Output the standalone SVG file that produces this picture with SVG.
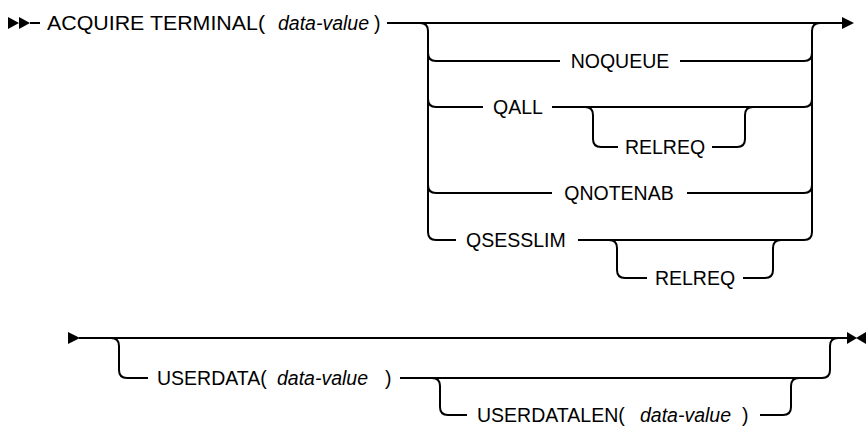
<svg xmlns="http://www.w3.org/2000/svg" width="866" height="427" viewBox="0 0 866 427">
<style>
  .ln { fill: none; stroke: #000; stroke-width: 2; }
  .ah { fill: #000; stroke: none; }
  text { font-family: "Liberation Sans", Arial, sans-serif; font-size: 19.5px; fill: #000; }
  .c { text-anchor: middle; }
  .v { font-style: italic; }
</style>
<rect width="866" height="427" fill="#fff"/>
<g id="connectors">
  <polygon class="ah" points="8,17 19,23 8,29"/>
  <polygon class="ah" points="19,17 30,23 19,29"/>
  <path class="ln" d="M30 23 H40"/>
  <path class="ln" d="M387 23 H843"/>
  <polygon class="ah" points="842,17 854,23 842,29"/>
  <path class="ln" d="M420 23 Q428 23 428 31 V232 Q428 240 436 240"/>
  <path class="ln" d="M428 53 Q428 61 436 61"/>
  <path class="ln" d="M428 99 Q428 107 436 107"/>
  <path class="ln" d="M428 185 Q428 193 436 193"/>
  <path class="ln" d="M804 240 Q812 240 812 232 V31 Q812 23 820 23"/>
  <path class="ln" d="M804 61 Q812 61 812 53"/>
  <path class="ln" d="M804 107 Q812 107 812 99"/>
  <path class="ln" d="M804 193 Q812 193 812 185"/>
  <path class="ln" d="M436 61 H560 M680 61 H804"/>
  <path class="ln" d="M436 107 H483 M552 107 H804"/>
  <path class="ln" d="M585 107 Q593 107 593 115 V139 Q593 147 601 147 H618"/>
  <path class="ln" d="M712 147 H737 Q745 147 745 139 V115 Q745 107 753 107"/>
  <path class="ln" d="M436 193 H552 M687 193 H804"/>
  <path class="ln" d="M436 240 H456 M578 240 H804"/>
  <path class="ln" d="M609 240 Q617 240 617 248 V270 Q617 278 625 278 H647"/>
  <path class="ln" d="M743 278 H765 Q773 278 773 270 V248 Q773 240 781 240"/>
  <polygon class="ah" points="68,332 80,338 68,344"/>
  <path class="ln" d="M79 338 H849"/>
  <polygon class="ah" points="847,332 857,338 847,344"/>
  <polygon class="ah" points="866,332 856,338 866,344"/>
  <path class="ln" d="M111 338 Q119 338 119 346 V370 Q119 378 127 378 H148"/>
  <path class="ln" d="M400 378 H822 Q830 378 830 370 V346 Q830 338 838 338"/>
  <path class="ln" d="M432 378 Q440 378 440 386 V407 Q440 415 448 415 H467"/>
  <path class="ln" d="M760 415 H783 Q791 415 791 407 V386 Q791 378 799 378"/>
</g>
<g id="n-acquire">
  <text x="47" y="30" textLength="218" lengthAdjust="spacingAndGlyphs">ACQUIRE TERMINAL(</text>
  <text class="v" x="278" y="30">data-value</text>
  <text x="374" y="30">)</text>
</g>
<g id="n-noqueue"><text class="c" x="620" y="68">NOQUEUE</text></g>
<g id="n-qall"><text x="493" y="114">QALL</text></g>
<g id="n-relreq1"><text class="c" x="665" y="154">RELREQ</text></g>
<g id="n-qnotenab"><text class="c" x="619" y="200">QNOTENAB</text></g>
<g id="n-qsesslim"><text x="466" y="247">QSESSLIM</text></g>
<g id="n-relreq2"><text class="c" x="695" y="285">RELREQ</text></g>
<g id="n-userdata">
  <text x="157" y="385">USERDATA(</text>
  <text class="v" x="277" y="385">data-value</text>
  <text x="385" y="385">)</text>
</g>
<g id="n-userdatalen">
  <text x="477" y="422">USERDATALEN(</text>
  <text class="v" x="640" y="422">data-value</text>
  <text x="742" y="422">)</text>
</g>
</svg>
